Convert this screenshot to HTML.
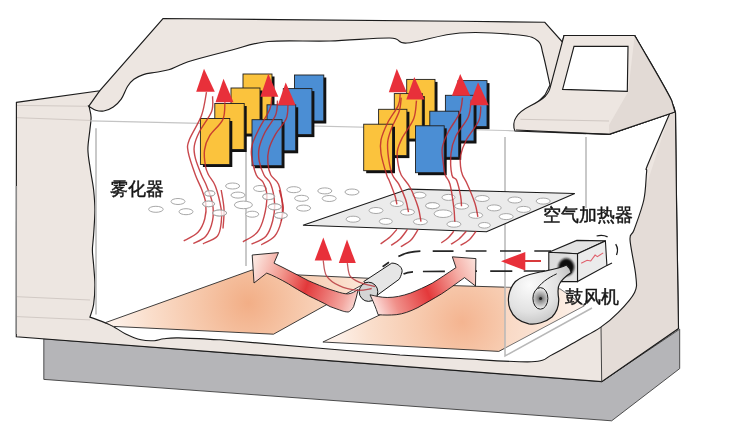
<!DOCTYPE html>
<html><head><meta charset="utf-8">
<style>
html,body{margin:0;padding:0;background:#fff;}
body{width:735px;height:442px;overflow:hidden;position:relative;}
svg{position:absolute;left:0;top:0;}
.lbl{position:absolute;font-family:"Liberation Sans",sans-serif;font-size:18px;font-weight:normal;-webkit-text-stroke:0.45px #151515;color:#151515;white-space:nowrap;line-height:1;letter-spacing:0px;will-change:transform;}
</style></head><body>
<svg width="735" height="442" viewBox="0 0 735 442">
<defs>
  <radialGradient id="og1" gradientUnits="userSpaceOnUse" cx="248" cy="303" r="135">
    <stop offset="0" stop-color="#f2ae86"/>
    <stop offset="0.35" stop-color="#f6c6a8"/>
    <stop offset="0.75" stop-color="#fadfcd"/>
    <stop offset="1" stop-color="#fdf0e8"/>
  </radialGradient>
  <radialGradient id="og2" gradientUnits="userSpaceOnUse" cx="462" cy="322" r="125">
    <stop offset="0" stop-color="#f4b490"/>
    <stop offset="0.35" stop-color="#f7caae"/>
    <stop offset="0.75" stop-color="#fadfcd"/>
    <stop offset="1" stop-color="#fdf0e8"/>
  </radialGradient>
  <linearGradient id="rib1" gradientUnits="userSpaceOnUse" x1="255" y1="262" x2="362" y2="300">
    <stop offset="0" stop-color="#fbe3dc"/>
    <stop offset="0.25" stop-color="#f29a90"/>
    <stop offset="0.5" stop-color="#e2383a"/>
    <stop offset="0.85" stop-color="#f3a7a0"/>
    <stop offset="1" stop-color="#fce8e4"/>
  </linearGradient>
  <linearGradient id="rib2" gradientUnits="userSpaceOnUse" x1="372" y1="305" x2="476" y2="262">
    <stop offset="0" stop-color="#fde9e5"/>
    <stop offset="0.2" stop-color="#f0908a"/>
    <stop offset="0.5" stop-color="#e4393b"/>
    <stop offset="0.8" stop-color="#f4aaa2"/>
    <stop offset="1" stop-color="#fbe1da"/>
  </linearGradient>
  <linearGradient id="cyl" gradientUnits="userSpaceOnUse" x1="380" y1="268" x2="395" y2="290">
    <stop offset="0" stop-color="#e8e8e8"/>
    <stop offset="1" stop-color="#cfcfcf"/>
  </linearGradient>
  <radialGradient id="vol" gradientUnits="userSpaceOnUse" cx="530" cy="285" r="45">
    <stop offset="0" stop-color="#fbfbfb"/>
    <stop offset="0.6" stop-color="#e2e2e2"/>
    <stop offset="1" stop-color="#bdbdbd"/>
  </radialGradient>
  <radialGradient id="hub" gradientUnits="userSpaceOnUse" cx="540.5" cy="298.5" r="9">
    <stop offset="0" stop-color="#555"/>
    <stop offset="0.4" stop-color="#9a9a9a"/>
    <stop offset="1" stop-color="#e4e4e4"/>
  </radialGradient>
  <filter id="blur1" x="-50%" y="-50%" width="200%" height="200%"><feGaussianBlur stdDeviation="0.9"/></filter>
  <linearGradient id="box" gradientUnits="userSpaceOnUse" x1="550" y1="250" x2="605" y2="280">
    <stop offset="0" stop-color="#d9d9d9"/>
    <stop offset="1" stop-color="#efefef"/>
  </linearGradient>
</defs>

<path d="M43.8,338.8 L601.7,381.6 L679.7,329.2 L679.7,368.6 L611.7,420.8 L43.8,379.4 Z" fill="#b5b5b8" stroke="#2a2a2a" stroke-width="0.8"/>
<path d="M16.4,102.4 L99.8,90.7 L163,18.5 L280,19.6 L460,21.2 L544.8,22.3 L562.4,42 L564,35.5 L634.7,35.5 L674,107 L675.5,112.5 L676.5,200 L678.5,328.5 L601.7,381.6 L16.3,336.7 Z" fill="#ede6e1" stroke="#1c1c1c" stroke-width="1.15"/>
<path d="M601,326 L669.7,113.6 L675.5,112.5 L676.5,200 L678.5,328.5 L601.7,381.6 Z" fill="#e4dcd7"/>
<path d="M675.5,112.5 L676.5,200 L678.5,328.5 L601.7,381.6" fill="none" stroke="#1c1c1c" stroke-width="1.15"/>
<path d="M601,326 L601.7,381.6" fill="none" stroke="#333" stroke-width="0.9"/>
<path d="M16.4,186 L16.3,334" stroke="#8a8a8a" stroke-width="1.3" fill="none"/>
<path d="M17,105.4 L89,106.3 M17,117.7 L90,120.4 M17,296.7 L90,300 M17,316.6 L90,319.9" stroke="#d2cac5" stroke-width="1" fill="none"/>
<path d="M99.8,90.7 L88.7,106.3" stroke="#1c1c1c" stroke-width="1.15" fill="none"/>
<path d="M88.7,106.3 C89.9,107.0 93.3,109.4 95.8,110.2 C98.3,111.0 100.9,111.5 103.8,111.0 C106.7,110.5 110.4,109.0 113.3,107.0 C116.2,105.0 118.8,102.5 121.2,99.1 C123.6,95.7 125.4,89.8 127.5,86.5 C129.6,83.2 131.2,81.3 133.9,79.3 C136.6,77.3 139.7,75.8 143.4,74.6 C147.1,73.4 151.9,73.0 156.1,72.2 C160.3,71.4 164.7,71.0 168.7,69.8 C172.7,68.6 175.8,66.6 180.0,65.0 C184.2,63.4 185.3,62.5 194.0,60.0 C202.7,57.5 219.7,53.1 232.0,50.0 C244.3,46.9 251.7,43.0 268.0,41.5 C284.3,40.0 309.7,41.6 330.0,41.0 C350.3,40.4 377.2,37.7 390.0,38.0 C402.8,38.3 395.3,43.8 407.0,43.0 C418.7,42.2 441.3,34.3 460.0,33.0 C478.7,31.7 506.0,33.7 519.0,35.0 C532.0,36.3 534.0,37.8 538.0,41.0 C542.0,44.2 541.0,46.7 543.0,54.0 C545.0,61.3 548.8,79.8 550.0,85.0 L545,95 L515,125 L609,134.4 L669.7,113.6 C666.1,122.0 651.9,154.3 648.0,164.0 C644.1,173.7 647.3,166.0 646.6,172.0 C645.9,178.0 645.9,190.3 643.8,200.0 C641.7,209.7 636.3,223.4 634.0,230.0 C631.7,236.6 629.7,232.0 630.0,239.5 C630.3,247.0 634.9,266.2 635.7,275.0 C636.5,283.8 637.5,286.2 634.6,292.4 C631.7,298.6 624.1,306.5 618.4,312.3 C612.7,318.1 607.0,322.9 600.5,327.4 C594.0,331.9 587.6,334.9 579.6,339.4 C571.6,343.9 560.6,350.7 552.6,354.4 C544.6,358.1 547.1,361.1 531.7,361.8 C516.3,362.5 481.9,359.6 460.0,358.5 C438.1,357.4 410.0,355.6 400.0,355.0 L320,348.2 L220,339.8L220.0,339.8 C213.2,339.5 188.4,338.1 179.0,337.9 C169.6,337.7 167.9,338.3 163.8,338.8 C159.7,339.3 158.1,340.5 154.3,340.7 C150.5,340.9 145.8,340.9 141.0,339.8 C136.2,338.7 130.3,336.2 125.7,334.0 C121.1,331.8 116.8,328.3 113.3,326.4 C109.8,324.5 108.7,324.2 104.8,322.6 C100.9,321.1 92.4,318.0 89.9,317.1L89.9,317.1 C90.5,315.0 92.8,310.1 93.6,304.7 C94.4,299.3 94.9,291.3 94.9,284.7 C94.9,278.1 94.0,270.6 93.6,264.8 C93.2,259.0 92.4,254.9 92.4,249.9 C92.4,244.9 93.2,241.6 93.6,234.9 C94.0,228.2 94.9,217.5 94.9,210.0 C94.9,202.5 94.3,196.4 93.6,189.7 C92.8,183.0 91.4,176.5 90.4,169.8 C89.5,163.2 88.0,156.5 87.9,149.8 C87.8,143.2 89.4,135.3 89.9,129.9 C90.4,124.5 91.2,121.1 91.1,117.4 C91.0,113.8 89.8,109.8 89.4,108.0 C89.0,106.2 88.8,106.6 88.7,106.3 Z" fill="#fff" stroke="#1c1c1c" stroke-width="1.15"/>
<path d="M90.3,120.8 L505,130.5 L586,134" stroke="#c4c4c4" stroke-width="1.2" fill="none"/>
<path d="M96,128.3 L96,314.6 M246,123 L246,266 M586,137 L586,208" stroke="#b8b8b8" stroke-width="1.5" fill="none"/>
<path d="M564,35.5 L634.7,35.5 C650,62 664,85 671.6,100.4 L675,112 L609,134.4 L515,131 C513,127 513.5,121 516,117.5 C519,112 524,109 530,106 C537,102.5 542,99.5 545.5,96 C548,93 549.5,91 550,88 Z" fill="#ede6e1" stroke="#1c1c1c" stroke-width="1.15"/>
<path d="M634.7,35.5 C650,62 664,85 671.6,100.4 L675,112 L609,134.4 L609,125 L628,92 Z" fill="#e2dad5"/>
<path d="M634.7,35.5 C650,62 664,85 671.6,100.4 L675,112 L609,134.4 L516,130" fill="none" stroke="#1c1c1c" stroke-width="1.15"/>
<path d="M520.4,119.3 L609,121" stroke="#d0c8c3" stroke-width="1" fill="none"/>
<path d="M574,46.4 L628,46.4 L627.3,91.3 L562.6,89.4 Z" fill="#fff" stroke="#1c1c1c" stroke-width="1.15"/>
<path d="M105.5,322.6 L252,270 L278.5,274 L373.6,278.5 L273.5,334.2 L113.3,326.4 Z" fill="url(#og1)" stroke="#2a2a2a" stroke-width="0.9"/>
<path d="M322.9,342 L442,285.3 L560,288.8 L584.2,305.9 L498.8,351.4 Z" fill="url(#og2)" stroke="#2a2a2a" stroke-width="0.9"/>
<path d="M505,268 L586,208 L592,308 L505,356 Z" fill="#fff" fill-opacity="0.28"/>
<path d="M505,137 L505,356 L592,308" stroke="#b8b8b8" stroke-width="1.5" fill="none"/>
<path d="M303,225.3 L408.6,189.1 L574.8,193.5 L486.5,231.8 Z" fill="#ebebeb" stroke="#1a1a1a" stroke-width="1.1"/>
<ellipse cx="155.9" cy="209.3" rx="7.3" ry="3.0" fill="#fff" stroke="#a8a8a8" stroke-width="1"/>
<ellipse cx="178.0" cy="201.5" rx="7.0" ry="3.0" fill="#fff" stroke="#a8a8a8" stroke-width="1"/>
<ellipse cx="186.0" cy="211.7" rx="7.0" ry="3.0" fill="#fff" stroke="#a8a8a8" stroke-width="1"/>
<ellipse cx="209.8" cy="193.4" rx="5.0" ry="2.6" fill="#fff" stroke="#a8a8a8" stroke-width="1"/>
<ellipse cx="208.6" cy="203.9" rx="6.0" ry="2.8" fill="#fff" stroke="#a8a8a8" stroke-width="1"/>
<ellipse cx="219.6" cy="213.0" rx="7.0" ry="3.0" fill="#fff" stroke="#a8a8a8" stroke-width="1"/>
<ellipse cx="232.6" cy="186.0" rx="7.0" ry="3.0" fill="#fff" stroke="#a8a8a8" stroke-width="1"/>
<ellipse cx="238.0" cy="195.1" rx="7.0" ry="3.0" fill="#fff" stroke="#a8a8a8" stroke-width="1"/>
<ellipse cx="243.4" cy="204.9" rx="9.0" ry="3.8" fill="#fff" stroke="#a8a8a8" stroke-width="1"/>
<ellipse cx="252.2" cy="214.2" rx="6.5" ry="3.0" fill="#fff" stroke="#a8a8a8" stroke-width="1"/>
<ellipse cx="260.0" cy="188.5" rx="6.5" ry="3.0" fill="#fff" stroke="#a8a8a8" stroke-width="1"/>
<ellipse cx="268.6" cy="196.6" rx="6.0" ry="3.0" fill="#fff" stroke="#a8a8a8" stroke-width="1"/>
<ellipse cx="274.7" cy="206.8" rx="6.5" ry="3.0" fill="#fff" stroke="#a8a8a8" stroke-width="1"/>
<ellipse cx="280.8" cy="215.4" rx="6.5" ry="3.0" fill="#fff" stroke="#a8a8a8" stroke-width="1"/>
<ellipse cx="293.8" cy="189.7" rx="7.0" ry="3.0" fill="#fff" stroke="#a8a8a8" stroke-width="1"/>
<ellipse cx="301.6" cy="198.3" rx="7.0" ry="3.0" fill="#fff" stroke="#a8a8a8" stroke-width="1"/>
<ellipse cx="303.6" cy="208.1" rx="7.0" ry="3.0" fill="#fff" stroke="#a8a8a8" stroke-width="1"/>
<ellipse cx="324.8" cy="190.9" rx="7.0" ry="3.0" fill="#fff" stroke="#a8a8a8" stroke-width="1"/>
<ellipse cx="329.2" cy="198.5" rx="7.0" ry="3.0" fill="#fff" stroke="#a8a8a8" stroke-width="1"/>
<ellipse cx="352.0" cy="192.0" rx="7.0" ry="3.0" fill="#fff" stroke="#a8a8a8" stroke-width="1"/>
<ellipse cx="448.5" cy="197.4" rx="6.5" ry="3.0" fill="#fff" stroke="#a8a8a8" stroke-width="1"/>
<ellipse cx="482.2" cy="198.5" rx="7.0" ry="3.0" fill="#fff" stroke="#a8a8a8" stroke-width="1"/>
<ellipse cx="514.9" cy="200.0" rx="7.0" ry="3.0" fill="#fff" stroke="#a8a8a8" stroke-width="1"/>
<ellipse cx="543.2" cy="201.1" rx="7.0" ry="3.0" fill="#fff" stroke="#a8a8a8" stroke-width="1"/>
<ellipse cx="432.2" cy="205.7" rx="6.5" ry="3.0" fill="#fff" stroke="#a8a8a8" stroke-width="1"/>
<ellipse cx="461.6" cy="206.1" rx="7.0" ry="3.0" fill="#fff" stroke="#a8a8a8" stroke-width="1"/>
<ellipse cx="494.2" cy="207.9" rx="7.0" ry="3.0" fill="#fff" stroke="#a8a8a8" stroke-width="1"/>
<ellipse cx="523.6" cy="209.4" rx="7.0" ry="3.0" fill="#fff" stroke="#a8a8a8" stroke-width="1"/>
<ellipse cx="443.1" cy="213.7" rx="9.0" ry="3.8" fill="#fff" stroke="#a8a8a8" stroke-width="1"/>
<ellipse cx="475.7" cy="215.3" rx="7.0" ry="3.0" fill="#fff" stroke="#a8a8a8" stroke-width="1"/>
<ellipse cx="506.2" cy="216.6" rx="7.0" ry="3.0" fill="#fff" stroke="#a8a8a8" stroke-width="1"/>
<ellipse cx="453.9" cy="224.2" rx="7.0" ry="3.0" fill="#fff" stroke="#a8a8a8" stroke-width="1"/>
<ellipse cx="484.4" cy="225.3" rx="6.0" ry="2.8" fill="#fff" stroke="#a8a8a8" stroke-width="1"/>
<ellipse cx="376.0" cy="210.5" rx="7.0" ry="3.0" fill="#fff" stroke="#a8a8a8" stroke-width="1"/>
<ellipse cx="353.1" cy="219.2" rx="7.0" ry="3.0" fill="#fff" stroke="#a8a8a8" stroke-width="1"/>
<ellipse cx="385.8" cy="221.4" rx="6.5" ry="3.0" fill="#fff" stroke="#a8a8a8" stroke-width="1"/>
<ellipse cx="396.9" cy="203.5" rx="6.5" ry="3.0" fill="#fff" stroke="#a8a8a8" stroke-width="1"/>
<ellipse cx="407.5" cy="212.1" rx="7.0" ry="3.0" fill="#fff" stroke="#a8a8a8" stroke-width="1"/>
<ellipse cx="420.4" cy="221.7" rx="7.0" ry="3.0" fill="#fff" stroke="#a8a8a8" stroke-width="1"/>
<ellipse cx="419.5" cy="195.2" rx="6.5" ry="3.0" fill="#fff" stroke="#a8a8a8" stroke-width="1"/>
<ellipse cx="432.6" cy="205.7" rx="7.0" ry="3.0" fill="#fff" stroke="#a8a8a8" stroke-width="1"/>
<rect x="245.5" y="76.5" width="29.0" height="46.0" fill="#111"/><rect x="243.0" y="74.0" width="29.0" height="46.0" fill="#fbc33d" stroke="#1e1e1e" stroke-width="0.9"/>
<rect x="233.5" y="90.5" width="29.0" height="46.0" fill="#111"/><rect x="231.0" y="88.0" width="29.0" height="46.0" fill="#fbc33d" stroke="#1e1e1e" stroke-width="0.9"/>
<rect x="217.3" y="106.0" width="29.4" height="46.0" fill="#111"/><rect x="214.8" y="103.5" width="29.4" height="46.0" fill="#fbc33d" stroke="#1e1e1e" stroke-width="0.9"/>
<rect x="202.9" y="121.0" width="29.4" height="46.0" fill="#111"/><rect x="200.4" y="118.5" width="29.4" height="46.0" fill="#fbc33d" stroke="#1e1e1e" stroke-width="0.9"/>
<rect x="297.0" y="77.5" width="29.3" height="46.0" fill="#111"/><rect x="294.5" y="75.0" width="29.3" height="46.0" fill="#4b8ed4" stroke="#1e1e1e" stroke-width="0.9"/>
<rect x="285.8" y="91.1" width="28.6" height="46.0" fill="#111"/><rect x="283.3" y="88.6" width="28.6" height="46.0" fill="#4b8ed4" stroke="#1e1e1e" stroke-width="0.9"/>
<rect x="269.5" y="107.3" width="28.7" height="46.0" fill="#111"/><rect x="267.0" y="104.8" width="28.7" height="46.0" fill="#4b8ed4" stroke="#1e1e1e" stroke-width="0.9"/>
<rect x="254.5" y="122.2" width="30.0" height="46.0" fill="#111"/><rect x="252.0" y="119.7" width="30.0" height="46.0" fill="#4b8ed4" stroke="#1e1e1e" stroke-width="0.9"/>
<rect x="409.2" y="81.9" width="28.3" height="46.5" fill="#111"/><rect x="406.7" y="79.4" width="28.3" height="46.5" fill="#fbc33d" stroke="#1e1e1e" stroke-width="0.9"/>
<rect x="396.8" y="96.1" width="28.0" height="45.4" fill="#111"/><rect x="394.3" y="93.6" width="28.0" height="45.4" fill="#fbc33d" stroke="#1e1e1e" stroke-width="0.9"/>
<rect x="381.1" y="111.8" width="28.3" height="46.3" fill="#111"/><rect x="378.6" y="109.3" width="28.3" height="46.3" fill="#fbc33d" stroke="#1e1e1e" stroke-width="0.9"/>
<rect x="366.2" y="126.7" width="28.8" height="46.5" fill="#111"/><rect x="363.7" y="124.2" width="28.8" height="46.5" fill="#fbc33d" stroke="#1e1e1e" stroke-width="0.9"/>
<rect x="460.5" y="83.1" width="29.0" height="46.0" fill="#111"/><rect x="458.0" y="80.6" width="29.0" height="46.0" fill="#4b8ed4" stroke="#1e1e1e" stroke-width="0.9"/>
<rect x="447.9" y="97.8" width="28.6" height="45.7" fill="#111"/><rect x="445.4" y="95.3" width="28.6" height="45.7" fill="#4b8ed4" stroke="#1e1e1e" stroke-width="0.9"/>
<rect x="432.3" y="113.7" width="28.9" height="46.1" fill="#111"/><rect x="429.8" y="111.2" width="28.9" height="46.1" fill="#4b8ed4" stroke="#1e1e1e" stroke-width="0.9"/>
<rect x="418.0" y="128.3" width="28.7" height="46.9" fill="#111"/><rect x="415.5" y="125.8" width="28.7" height="46.9" fill="#4b8ed4" stroke="#1e1e1e" stroke-width="0.9"/>
<path d="M206.5,92.1 C205.7,96.0 204.4,107.5 201.5,115.5 C198.6,123.5 191.4,133.9 189.2,140.0 C187.0,146.1 187.2,146.4 188.2,152.2 C189.2,158.0 193.1,168.7 195.4,175.0 C197.7,181.3 200.2,185.2 201.9,190.0 C203.6,194.8 205.3,198.7 205.8,203.5 C206.3,208.3 206.1,214.0 204.8,218.8 C203.5,223.6 201.5,228.6 198.0,232.3 C194.5,236.0 186.1,239.6 183.7,241.0" fill="none" stroke="#c0282e" stroke-width="1.4" stroke-opacity="0.85"/>
<path d="M212.6,96.2 C212.4,98.8 213.8,105.6 211.6,111.5 C209.4,117.4 202.3,126.1 199.4,131.8 C196.5,137.6 195.0,141.6 194.3,146.0 C193.6,150.4 194.2,153.5 195.4,158.3 C196.6,163.1 199.6,170.3 201.5,175.0 C203.4,179.7 204.9,181.4 206.7,186.2 C208.5,190.9 211.5,197.7 212.5,203.5 C213.5,209.3 213.6,215.4 212.5,220.8 C211.4,226.2 209.0,232.4 205.8,236.2 C202.6,240.0 195.4,242.3 193.3,243.5" fill="none" stroke="#c0282e" stroke-width="1.4" stroke-opacity="0.85"/>
<path d="M224.9,102.3 C224.6,105.2 225.4,114.0 222.8,119.6 C220.2,125.2 212.7,130.8 209.6,135.9 C206.5,141.0 205.2,145.0 204.5,150.1 C203.8,155.2 204.8,162.2 205.5,166.4 C206.2,170.6 206.9,171.7 208.6,175.0 C210.2,178.3 213.3,180.5 215.4,186.2 C217.5,191.9 220.2,203.1 221.2,209.2 C222.2,215.3 221.8,218.2 221.2,222.7 C220.5,227.2 220.4,232.7 217.3,236.2 C214.2,239.7 205.3,242.5 202.9,243.8" fill="none" stroke="#c0282e" stroke-width="1.4" stroke-opacity="0.85"/>
<path d="M221.2,190.0 C221.7,193.2 223.7,202.8 224.0,209.2 C224.3,215.6 223.2,225.3 223.0,228.5" fill="none" stroke="#c0282e" stroke-width="1.4" stroke-opacity="0.85"/>
<path d="M271.7,97.7 C271.4,99.6 271.9,104.1 269.8,109.2 C267.7,114.3 262.1,122.7 259.2,128.5 C256.3,134.3 253.8,139.3 252.5,143.8 C251.2,148.3 250.9,150.2 251.5,155.4 C252.1,160.6 254.4,170.5 256.3,175.0 C258.2,179.5 261.3,178.8 263.1,182.3 C264.9,185.8 266.8,190.0 266.9,195.8 C267.0,201.6 265.6,210.8 264.0,216.9 C262.4,223.0 260.8,228.1 257.3,232.3 C253.8,236.5 245.3,240.3 242.9,241.9" fill="none" stroke="#c0282e" stroke-width="1.4" stroke-opacity="0.85"/>
<path d="M277.5,100.6 C277.2,103.0 277.7,109.7 275.6,115.0 C273.5,120.3 267.7,126.9 265.0,132.3 C262.3,137.8 260.2,142.9 259.2,147.7 C258.2,152.5 258.4,156.6 259.2,161.2 C260.0,165.8 262.1,171.2 264.0,175.0 C265.9,178.8 269.0,179.4 270.8,184.2 C272.6,188.9 274.3,197.4 274.6,203.5 C274.9,209.6 274.1,215.4 272.7,220.8 C271.3,226.2 269.5,232.3 266.0,236.2 C262.5,240.1 253.9,242.9 251.5,244.2" fill="none" stroke="#c0282e" stroke-width="1.4" stroke-opacity="0.85"/>
<path d="M288.0,104.4 C287.7,106.8 288.3,113.8 286.2,118.8 C284.1,123.8 278.5,129.1 275.6,134.2 C272.7,139.3 270.1,144.8 268.8,149.6 C267.5,154.4 267.6,158.9 267.9,163.1 C268.2,167.3 269.0,171.5 270.8,175.0 C272.6,178.5 276.6,179.4 278.5,184.2 C280.4,188.9 281.8,197.4 282.3,203.5 C282.8,209.6 282.6,215.4 281.3,220.8 C280.0,226.2 278.0,232.2 274.6,236.2 C271.2,240.2 263.4,243.4 261.2,244.8" fill="none" stroke="#c0282e" stroke-width="1.4" stroke-opacity="0.85"/>
<path d="M279.4,190.0 C280.0,192.9 283.0,202.2 283.3,207.3 C283.6,212.4 281.6,218.6 281.3,220.8" fill="none" stroke="#c0282e" stroke-width="1.4" stroke-opacity="0.85"/>
<path d="M400.2,93.8 C399.9,95.7 400.4,100.6 398.3,105.4 C396.2,110.2 390.6,116.9 387.7,122.7 C384.8,128.5 382.1,134.9 381.0,140.0 C379.9,145.1 380.1,147.7 381.0,153.5 C381.9,159.3 385.3,170.5 386.7,175.0 C388.1,179.5 387.8,176.9 389.2,180.4 C390.6,183.9 393.7,191.8 395.0,195.8 C396.3,199.8 396.6,203.0 396.9,204.4" fill="none" stroke="#c0282e" stroke-width="1.4" stroke-opacity="0.85"/>
<path d="M401.2,97.7 C400.9,100.0 400.8,106.1 399.2,111.2 C397.6,116.3 393.4,123.4 391.5,128.5 C389.6,133.6 388.2,136.8 387.7,141.9 C387.2,147.0 387.9,153.7 388.7,159.2 C389.5,164.7 390.8,170.8 392.5,175.0 C394.2,179.2 396.6,180.1 398.8,184.2 C401.0,188.3 404.0,194.9 405.6,199.6 C407.2,204.2 408.0,210.0 408.5,212.1" fill="none" stroke="#c0282e" stroke-width="1.4" stroke-opacity="0.85"/>
<path d="M416.5,100.6 C416.0,103.6 416.1,112.5 413.7,118.8 C411.3,125.0 404.8,132.7 402.1,138.1 C399.4,143.5 397.9,147.0 397.3,151.5 C396.7,156.0 397.7,161.1 398.3,165.0 C398.9,168.9 399.2,171.2 401.2,175.0 C403.2,178.8 407.6,182.6 410.4,188.0 C413.2,193.4 416.3,201.7 418.1,207.3 C419.9,212.9 420.5,219.3 421.0,221.7" fill="none" stroke="#c0282e" stroke-width="1.4" stroke-opacity="0.85"/>
<path d="M462.5,97.7 C462.0,100.2 462.0,107.2 459.6,113.0 C457.2,118.8 451.0,126.5 448.1,132.3 C445.2,138.1 443.1,142.6 442.3,147.7 C441.5,152.8 442.8,158.5 443.3,163.1 C443.8,167.7 444.1,171.5 445.2,175.0 C446.3,178.5 448.6,178.8 450.0,184.2 C451.4,189.6 453.0,201.1 453.8,207.3 C454.6,213.6 454.6,219.3 454.8,221.7" fill="none" stroke="#c0282e" stroke-width="1.4" stroke-opacity="0.85"/>
<path d="M471.2,99.6 C470.7,102.5 470.9,110.8 468.3,116.9 C465.7,123.0 458.7,130.1 455.8,136.2 C452.9,142.3 451.6,147.0 451.0,153.5 C450.4,160.0 450.9,170.5 451.9,175.0 C452.8,179.5 455.2,176.9 456.7,180.4 C458.1,183.9 459.8,191.5 460.6,195.8 C461.4,200.1 461.4,204.6 461.5,206.3" fill="none" stroke="#c0282e" stroke-width="1.4" stroke-opacity="0.85"/>
<path d="M480.8,106.3 C480.5,108.7 481.2,115.2 478.8,120.8 C476.4,126.4 469.3,134.2 466.3,140.0 C463.3,145.8 461.6,150.9 460.6,155.4 C459.7,159.9 460.3,163.6 460.6,166.9 C460.9,170.2 461.4,172.1 462.5,175.0 C463.6,177.9 465.2,179.4 467.3,184.2 C469.4,188.9 473.2,198.1 475.0,203.5 C476.8,208.9 477.4,214.7 477.9,216.9" fill="none" stroke="#c0282e" stroke-width="1.4" stroke-opacity="0.85"/>
<path d="M396.9,229.4 C395.8,230.7 392.7,234.6 390.0,237.0 C387.3,239.4 382.2,242.7 380.6,243.8" fill="none" stroke="#c0282e" stroke-width="1.4" stroke-opacity="0.85"/>
<path d="M407.5,229.4 C406.2,231.0 402.7,236.3 400.0,239.0 C397.3,241.7 392.7,244.3 391.2,245.4" fill="none" stroke="#c0282e" stroke-width="1.4" stroke-opacity="0.85"/>
<path d="M418.1,229.4 C416.9,231.2 413.9,237.1 411.0,240.0 C408.1,242.9 402.5,245.6 400.8,246.7" fill="none" stroke="#c0282e" stroke-width="1.4" stroke-opacity="0.85"/>
<path d="M453.8,231.3 C452.8,232.4 450.1,236.1 448.0,238.0 C445.9,239.9 442.4,242.1 441.3,242.9" fill="none" stroke="#c0282e" stroke-width="1.4" stroke-opacity="0.85"/>
<path d="M466.3,231.3 C465.1,232.6 461.6,236.8 459.0,239.0 C456.4,241.2 452.3,243.3 451.0,244.2" fill="none" stroke="#c0282e" stroke-width="1.4" stroke-opacity="0.85"/>
<path d="M476.0,231.3 C474.8,232.8 471.6,237.7 469.0,240.0 C466.4,242.3 462.0,244.5 460.6,245.4" fill="none" stroke="#c0282e" stroke-width="1.4" stroke-opacity="0.85"/>
<ellipse cx="209.8" cy="193.4" rx="5.0" ry="2.6" fill="rgba(255,255,255,0.7)" stroke="#a8a8a8" stroke-width="1"/>
<ellipse cx="208.6" cy="203.9" rx="6.0" ry="2.8" fill="rgba(255,255,255,0.7)" stroke="#a8a8a8" stroke-width="1"/>
<ellipse cx="219.6" cy="213.0" rx="7.0" ry="3.0" fill="rgba(255,255,255,0.75)" stroke="#a8a8a8" stroke-width="1"/>
<ellipse cx="268.6" cy="196.6" rx="6.0" ry="3.0" fill="rgba(255,255,255,0.7)" stroke="#a8a8a8" stroke-width="1"/>
<ellipse cx="274.7" cy="206.8" rx="6.5" ry="3.0" fill="rgba(255,255,255,0.75)" stroke="#a8a8a8" stroke-width="1"/>
<ellipse cx="280.8" cy="215.4" rx="6.5" ry="3.0" fill="rgba(255,255,255,0.75)" stroke="#a8a8a8" stroke-width="1"/>
<path d="M204.0,68.7 L196.2,91.8 L214.8,91.8 Z" fill="#e8303a"/>
<path d="M223.5,78.7 L215.5,102.3 L233.5,102.3 Z" fill="#e8303a"/>
<path d="M268.3,73.7 L260.4,96.8 L278.3,96.8 Z" fill="#e8303a"/>
<path d="M285.7,82.4 L277.8,105.3 L295.7,105.3 Z" fill="#e8303a"/>
<path d="M396.8,68.7 L388.8,92.3 L406.7,92.3 Z" fill="#e8303a"/>
<path d="M414.3,77.1 L406.3,99.6 L424.6,99.6 Z" fill="#e8303a"/>
<path d="M460.2,74.0 L451.9,95.7 L470.3,95.7 Z" fill="#e8303a"/>
<path d="M478.0,82.2 L469.5,105.2 L488.7,105.2 Z" fill="#e8303a"/>
<path d="M323.3,237.5 L314.7,260.6 L331.9,260.6 Z" fill="#e8303a"/>
<path d="M347.0,239.5 L338.8,263.1 L355.8,263.1 Z" fill="#e8303a"/>
<path d="M382.6,266.7 L389,262.2 M398.4,256.5 C404,253.5 412,251.5 420.4,251.2 M432.7,251.1 L453.5,251.1 M465.7,251 L486.5,251 M500,251 L520.8,251 M534.3,251 L551,251" fill="none" stroke="#262626" stroke-width="1.7"/>
<path d="M403.5,274 C406,272.8 410,272 413,271.8 M422.9,271.5 L444.9,271.3 M455,271.2 L477,271.2 M490.2,271.1 L512.3,271.1 M523.7,271 L545,271" fill="none" stroke="#262626" stroke-width="1.7"/>
<path d="M363.8,281.5 L391.8,263.1 C398,263 403,268 402,272 C401,276 400,278 399.1,279.3 L377,295.4 Z" fill="#e6e6e6" stroke="#1a1a1a" stroke-width="1"/>
<ellipse cx="368.5" cy="291.8" rx="9.3" ry="9.6" fill="#d4d4d4" stroke="#1a1a1a" stroke-width="1"/>
<path d="M252.2,255 L278.5,252.6 L274,263.1 C280,266 286,269 292.1,272.2 C300,276 306,280 313.8,283 C322,286.5 328,289 335.5,291.2 C341,293 345,294 348.2,293.9 C352,293.5 355,291.5 358.2,289.4 C357,295 355.5,301 353.6,306.6 C352,309.5 350,311.5 348.2,312 C345,311.8 344,311.5 342.8,311.1 C338,309.5 334,308 330.1,306.6 C322,302 315,299 308.4,295.7 C301,291.5 294,287.5 288.5,283.9 C280,279 272,275 266.7,273.1 L254,283 Z" fill="url(#rib1)" stroke="#1a1a1a" stroke-width="0.9"/>
<path d="M370,294.8 C376,296 381,297.5 387.2,297.5 C395,297.5 402,296 410.7,293 C418,290 425,287 432.4,283 C440,278.5 447,273.5 456,267.6 L452.3,256.8 L475.9,258.6 L475.5,286 L464.5,277.6 C457,283 449,289 441.5,293.9 C433,299 425,303.5 418,307.5 C410,311.5 403,314 396.2,314.7 C390,315.2 384,315.2 378.1,314.7 C376,308 373,301 370,294.8 Z" fill="url(#rib2)" stroke="#1a1a1a" stroke-width="0.9"/>
<path d="M323.2,260.4 C323.8,263.0 323.8,271.6 326.5,275.8 C329.2,280.0 334.1,283.3 339.2,285.7 C344.3,288.1 351.9,289.8 357.3,290.3 C362.7,290.8 369.3,288.8 371.7,288.5" fill="none" stroke="#b83a40" stroke-width="1.3" stroke-opacity="0.85"/>
<path d="M347.3,263.1 C347.8,265.2 348.0,272.6 350.0,275.8 C352.0,279.0 354.9,280.3 359.1,282.1 C363.3,283.9 372.4,285.9 375.0,286.6" fill="none" stroke="#b83a40" stroke-width="1.3" stroke-opacity="0.85"/>
<path d="M524,261 L541,261" stroke="#d83a3c" stroke-width="2"/>
<path d="M501.0,261.2 L525.3,252.0 L525.3,270.5 Z" fill="#e8303a"/>
<path d="M548.8,252.2 L576.8,240.4 L605.4,240.9 L577.5,253.7 Z" fill="#e2e2e2" stroke="#1a1a1a" stroke-width="1.1"/>
<path d="M577.5,253.7 L605.4,240.9 L606.9,265.4 L577.5,281.6 Z" fill="#ebebeb" stroke="#1a1a1a" stroke-width="1.1"/>
<path d="M548.8,252.2 L577.5,253.7 L577.5,281.6 L548.8,281.6 Z" fill="url(#box)" stroke="#1a1a1a" stroke-width="1.1"/>
<path d="M606.9,265.4 L612,263" stroke="#1a1a1a" stroke-width="1.1"/>
<path d="M581.2,263.2 L587.1,260.3 L590.7,261 L595.1,255.1 L597.4,256.6 L603.2,252.9" fill="none" stroke="#e0606c" stroke-width="1.1"/>
<path d="M596.6,236 C600,235 605,235.5 607.6,236.8 M615.7,244.1 C617.5,247 618.2,251 616.5,255.1" fill="none" stroke="#1a1a1a" stroke-width="1.3"/>
<ellipse cx="566.3" cy="267.1" rx="8" ry="8.8" fill="#111" filter="url(#blur1)"/>
<path d="M571.2,272.5 C566,276 562,279 559.5,284 C557,288 558,294 558.7,298.8 C559,306 557,312 552,317 C546,322 536,325 528.8,323.8 C520,322 513,317 510,309 C507,301 508,290 515.4,281.5 C520,277 528,274.5 540,272 C550,270 560,268.5 566.5,265 C569,267 570.5,270 571.2,272.5 Z" fill="url(#vol)" stroke="#1a1a1a" stroke-width="1.2"/>
<path d="M556.7,273.8 C548,278 540,283 535,292" fill="none" stroke="#1a1a1a" stroke-width="1"/>
<ellipse cx="540.4" cy="298.4" rx="7.5" ry="10.8" fill="url(#hub)" stroke="#1a1a1a" stroke-width="1"/>
<circle cx="540.6" cy="298.6" r="1.5" fill="#222"/>
</svg>
<div class="lbl" style="left:110px;top:179.5px;">雾化器</div>
<div class="lbl" style="left:543px;top:205.5px;">空气加热器</div>
<div class="lbl" style="left:564.5px;top:288px;">鼓风机</div>
</body></html>
